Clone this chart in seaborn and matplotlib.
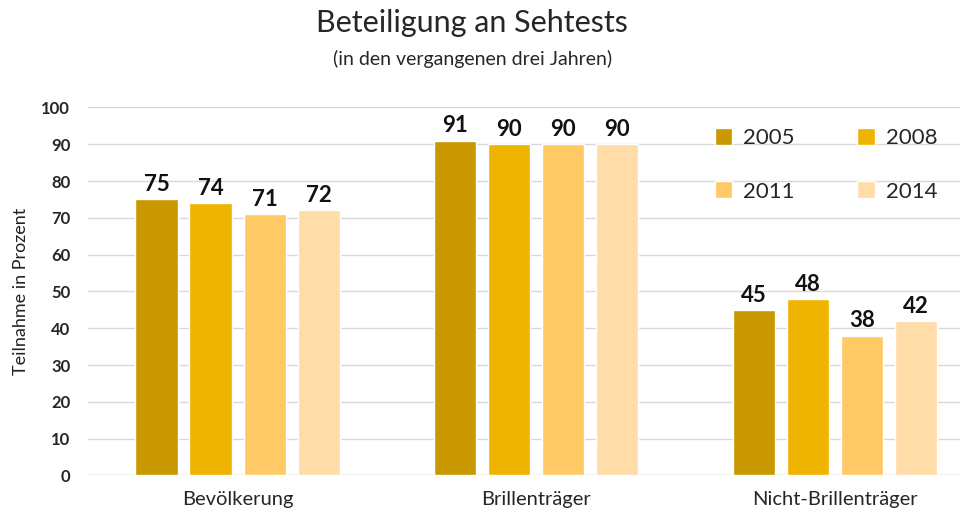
import pandas as pd
import numpy as np
import seaborn as sns
import matplotlib.pyplot as plt

# Data
groups = ['Bevölkerung', 'Brillenträger', 'Nicht-Brillenträger']
years = ['2005', '2008', '2011', '2014']
v2005 = [75, 91, 45]
v2008 = [74, 90, 48]
v2011 = [71, 90, 38]
v2014 = [72, 90, 42]
colors = ['#C99700', '#EFB400', '#FFC966', '#FFDCA8']

df = pd.DataFrame({'Gruppe': groups * 4,
                   'Jahr': np.repeat(years, 3),
                   'Wert': v2005 + v2008 + v2011 + v2014})

sns.set_style('white')
plt.rcParams['font.family'] = ['Lato', 'DejaVu Sans']

fig = plt.figure(figsize=(9.7, 5.14), dpi=100)
ax = fig.add_axes([0.091, 0.075, 0.899, 0.716])

sns.barplot(data=df, x='Gruppe', y='Wert', hue='Jahr', palette=colors,
            width=0.724, gap=0.22, saturation=1, ax=ax, legend=True)

for cont in ax.containers:
    ax.bar_label(cont, fmt='%d', padding=3, fontsize=16, fontweight='bold', color='#111111')

ax.set_ylim(0, 100)
ax.set_xlim(-0.5, 2.42)
ax.set_yticks(range(0, 101, 10))
ax.yaxis.grid(True, color='#d9d9d9', linewidth=1)
ax.set_axisbelow(True)
sns.despine(ax=ax, left=True, bottom=True)
ax.axhline(0, color='#d0d0d0', linewidth=1, zorder=0)
ax.tick_params(axis='both', length=0)
ax.tick_params(axis='y', labelsize=12, pad=13)
ax.tick_params(axis='x', labelsize=14.5, pad=11)
for t in ax.get_yticklabels():
    t.set_fontweight('bold')
ax.set_xlabel('')
ax.set_ylabel('Teilnahme in Prozent', fontsize=13, color='#222222', labelpad=9)

# legend filled row by row: 2005 2008 / 2011 2014
handles, labels = ax.get_legend_handles_labels()
order = [0, 2, 1, 3]
ax.get_legend().remove()
fig.legend([handles[i] for i in order], [labels[i] for i in order], ncol=2,
           loc='upper left', bbox_to_anchor=(0.716, 0.79),
           frameon=False, fontsize=16, handlelength=0.8, handleheight=0.8,
           handletextpad=0.5, columnspacing=2.8, labelspacing=1.5)

fig.text(0.487, 0.955, 'Beteiligung an Sehtests', ha='center', va='center', fontsize=22)
fig.text(0.487, 0.886, '(in den vergangenen drei Jahren)', ha='center', va='center', fontsize=14)

fig.savefig('out.png', dpi=100)
